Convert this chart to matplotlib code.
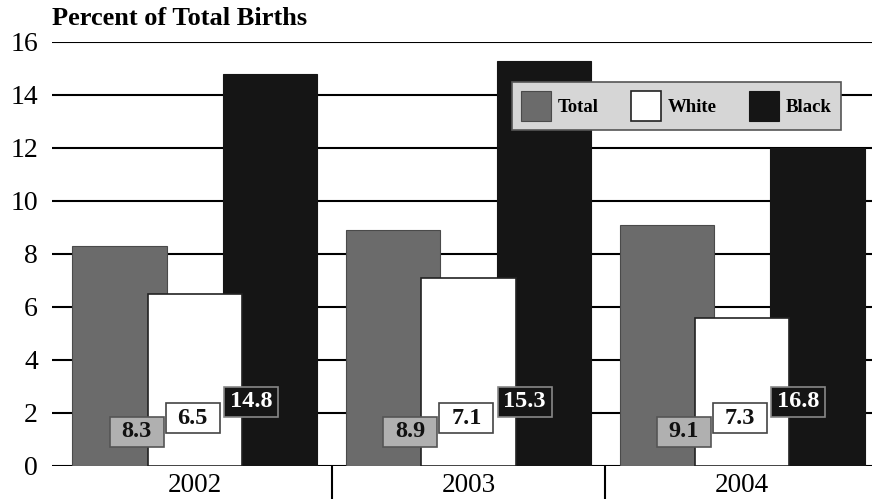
import numpy as np
import matplotlib
matplotlib.use('Agg')
import matplotlib.pyplot as plt
from matplotlib.patches import Rectangle

# Values as drawn in the picture (bar heights) and as printed in the boxes
years = ['2002', '2003', '2004']
total_bars = [8.3, 8.9, 9.1]
white_bars = [6.5, 7.1, 5.6]
black_bars = [14.8, 15.3, 12.0]
total_labels = ['8.3', '8.9', '9.1']
white_labels = ['6.5', '7.1', '7.3']
black_labels = ['14.8', '15.3', '16.8']
y_ticks = [0, 2, 4, 6, 8, 10, 12, 14, 16]

plt.rcParams['font.family'] = ['Liberation Serif', 'DejaVu Serif']

fig = plt.figure(figsize=(8.81, 5.04), dpi=100)
ax = fig.add_axes([0.059, 0.0754, 0.931, 0.8413])

x = np.arange(len(years))
width = 0.345

# horizontal rules behind the bars
for y in y_ticks:
    ax.axhline(y, color='black', linewidth=1.5, zorder=1)

ax.bar(x - 0.275, total_bars, width, color='#6b6b6b', edgecolor='#4a4a4a', linewidth=0.8, zorder=2, label='Total')
ax.bar(x + 0.275, black_bars, width, color='#151515', edgecolor='#151515', linewidth=0.8, zorder=2, label='Black')
ax.bar(x, white_bars, width, color='white', edgecolor='#222222', linewidth=1.2, zorder=3, label='White')

# value boxes (fixed size, like the original)
box_w, box_h = 0.197, 1.13
styles = [
    (total_labels, -0.213, 1.30, '#b0b0b0', '#555555', '#111111'),
    (white_labels, -0.008, 1.81, 'white', '#444444', '#111111'),
    (black_labels, 0.205, 2.43, '#151515', '#888888', 'white'),
]
for labels, dx, yc, fc, ec, tc in styles:
    for i in x:
        ax.add_patch(Rectangle((i + dx - box_w / 2, yc - box_h / 2), box_w, box_h,
                               facecolor=fc, edgecolor=ec, linewidth=1.2, zorder=5))
        ax.text(i + dx, yc, labels[i], color=tc, fontsize=17.5, fontweight='bold',
                ha='center', va='center', zorder=6)

ax.set_xlim(-0.522, 2.475)
ax.set_ylim(0, 16)
ax.set_yticks(y_ticks)
ax.set_xticks(x)
ax.set_xticklabels(years)
ax.set_xticks([0.5, 1.5], minor=True)
ax.tick_params(axis='y', length=0, pad=10, labelsize=20)
ax.tick_params(axis='x', which='major', length=0, pad=5, labelsize=19.5)
ax.tick_params(axis='x', which='minor', length=24, width=1.5, direction='out', color='black')
for side in ['left', 'right', 'top', 'bottom']:
    ax.spines[side].set_visible(False)

handles, labels = ax.get_legend_handles_labels()
order = [0, 2, 1]
leg = ax.legend([handles[k] for k in order], [labels[k] for k in order],
                ncol=3, loc='upper left', bbox_to_anchor=(0.561, 0.906),
                prop={'weight': 'bold', 'size': 13.5}, fancybox=False, framealpha=1,
                facecolor='#d6d6d6', edgecolor='#555555', handlelength=1.6, handleheight=2.08,
                handletextpad=0.37, columnspacing=1.7, borderpad=0.48, borderaxespad=0)
leg.get_frame().set_linewidth(1.2)
leg.set_zorder(10)

fig.text(0.059, 0.950, 'Percent of Total Births', fontsize=19, fontweight='bold', ha='left', va='baseline')

fig.savefig('out.png', dpi=100)
